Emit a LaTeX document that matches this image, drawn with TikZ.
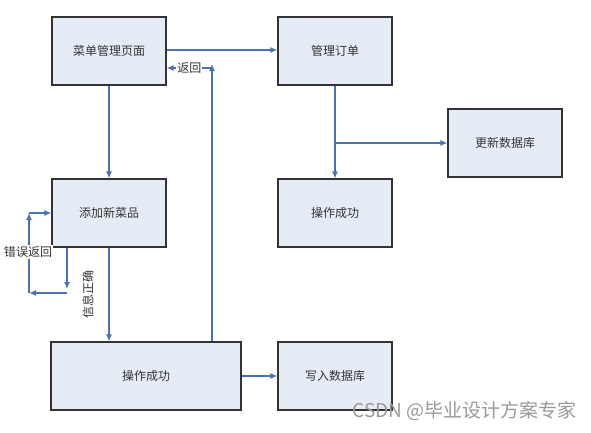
\documentclass[tikz,border=0pt]{standalone}
\usepackage{fontspec}
\usepackage{xcolor}
\usepackage{tikz}
\usetikzlibrary{arrows.meta}
\newfontfamily\cjk{Noto Sans CJK SC}
\definecolor{boxfill}{HTML}{E6ECF6}
\definecolor{boxline}{HTML}{333333}
\definecolor{arrowblue}{HTML}{4A72B0}

\begin{document}
\begin{tikzpicture}[x=1pt,y=-1pt,>={Latex[length=7pt,width=6pt]},
  box/.style={draw=boxline,line width=1.2pt,fill=boxfill,inner sep=0pt,
    minimum width=114pt,minimum height=68pt,
    font=\cjk\fontsize{12}{14}\selectfont,text=black!80},
  arr/.style={->,draw=arrowblue,line width=1.4pt},
  lbl/.style={fill=white,inner sep=1pt,font=\cjk\fontsize{12}{14}\selectfont,text=black!80}]
  \useasboundingbox (0,0) rectangle (591,432);

  \node[box] (menu)   at (109,51) {菜单管理页面};
  \node[box] (order)  at (335,51) {管理订单};
  \node[box] (update) at (505,143) {更新数据库};
  \node[box] (ok1)    at (335,213) {操作成功};
  \node[box] (add)    at (109,213) {添加新菜品};
  \node[box,minimum width=190pt] (ok2) at (146,376) {操作成功};
  \node[box] (write)  at (335,376) {写入数据库};

  \coordinate (e1) at (67,289);
  \coordinate (e2) at (67,293);
  \coordinate (e3) at (29,293);
  \coordinate (e4) at (29,213);
  \coordinate (r1) at (212,68);
  \coordinate (b1) at (335,143);

  \draw[arr] (menu.south) -- (menu.south |- add.north);
  \draw[arr] (menu.east |- 0,50) -- (order.west |- 0,50);
  \draw[arr] (add.south) -- (add.south |- ok2.north);
  \node[lbl,rotate=90,fill=none] (ok) at (88,294) {信息正确};
  \draw[arr] (add.south -| e1) -- (e1);
  \draw[arr] (e2) -- (e3);
  \draw[arr] (e3) -- (e4);
  \draw[arr] (e4) -- (add.west |- e4);
  \node[lbl] (err) at (28,252) {错误返回};
  \draw[arr] (ok2.north -| r1) -- ([yshift=4pt]r1);
  \draw[arr] (r1) -- node[lbl,pos=0.5] {返回} (menu.east |- r1);
  \draw[arr] (order.south) -- (ok1.north);
  \draw[arr] (b1) -- (update.west |- b1);
  \draw[arr] (ok2) -- (write);

  \node[text=black!40,font=\cjk\fontsize{19}{22}\selectfont,anchor=east,inner sep=0pt] (mark) at (577,411) {CSDN @毕业设计方案专家};
\end{tikzpicture}
\end{document}
